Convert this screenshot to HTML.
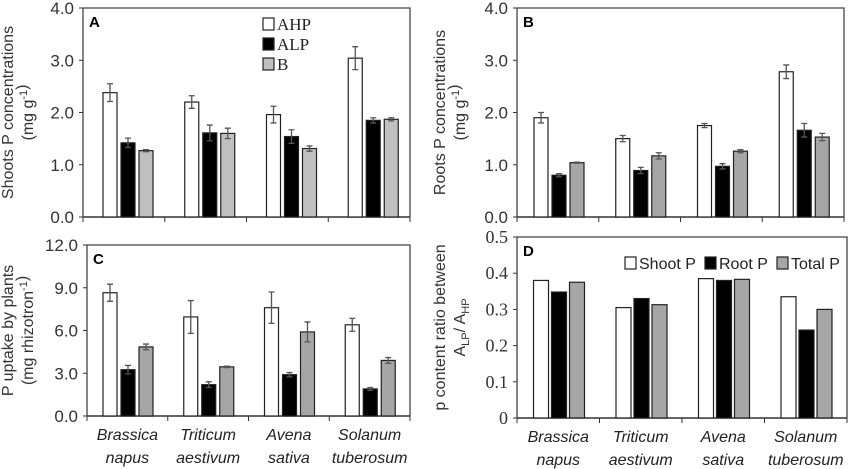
<!DOCTYPE html>
<html><head><meta charset="utf-8"><style>
body{margin:0;background:#fff;}
svg{display:block;font-family:"Liberation Sans",sans-serif;}
</style></head><body>
<svg id="chart" width="851" height="469" viewBox="0 0 851 469" xmlns="http://www.w3.org/2000/svg"></svg>
<script>
const categories = [["Brassica","napus"],["Triticum","aestivum"],["Avena","sativa"],["Solanum","tuberosum"]];
const aAHP=[2.38,2.20,1.96,3.04], aAHPerr=[0.17,0.12,0.16,0.22];
const aALP=[1.42,1.61,1.54,1.85], aALPerr=[0.09,0.15,0.13,0.05];
const aB=[1.27,1.60,1.31,1.87], aBerr=[0.02,0.10,0.05,0.03];
const bAHP=[1.90,1.50,1.75,2.78], bAHPerr=[0.10,0.06,0.04,0.13];
const bALP=[0.80,0.89,0.97,1.66], bALPerr=[0.03,0.06,0.05,0.13];
const bB=[1.04,1.17,1.26,1.53], bBerr=[0.01,0.06,0.03,0.07];
const cAHP=[8.65,6.95,7.60,6.40], cAHPerr=[0.60,1.15,1.10,0.45];
const cALP=[3.25,2.20,2.90,1.90], cALPerr=[0.30,0.20,0.15,0.10];
const cB=[4.85,3.45,5.90,3.90], cBerr=[0.20,0.05,0.70,0.20];
const dShoot=[0.380,0.305,0.385,0.335];
const dRoot=[0.348,0.330,0.380,0.243];
const dTotal=[0.375,0.313,0.383,0.300];
const ticksAB=["0.0","1.0","2.0","3.0","4.0"];
const ticksC=["0.0","3.0","6.0","9.0","12.0"];
const ticksD=["0","0.1","0.2","0.3","0.4","0.5"];

const svg=document.getElementById('chart');
const NS="http://www.w3.org/2000/svg";
function mk(tag,attrs,parent,text){const e=document.createElementNS(NS,tag);for(const k in attrs)e.setAttribute(k,attrs[k]);if(text!==undefined)e.textContent=text;(parent||svg).appendChild(e);return e;}

function panel(o){
  const g=mk('g',{});
  
  
  const x0=o.x0,x1=o.x1,y0=o.y0,y1=o.y1,ymax=o.ymax;
  const yS=v=>y1-(v/ymax)*(y1-y0);
  const pitch=(x1-x0)/4;
  const cx=i=>x0+o.off+i*pitch;
  const fr=mk('path',{d:`M${x0},${y1} L${x0},${y0} L${x1},${y0} L${x1},${y1}`,fill:'none',stroke:'#444','stroke-width':1.3},g);
  
  
  const xa=mk('line',{x1:x0,x2:x1,y1:y1,y2:y1,stroke:'#333','stroke-width':1.5},g);
  
  
  o.ticks.forEach((t,i)=>{
    const v=o.tickVals[i],y=yS(v);
    mk('line',{x1:x0-4,x2:x0,y1:y,y2:y,stroke:'#333','stroke-width':1},g);
    const tt=mk('text',{x:x0-9,y:y+6,'text-anchor':'end','font-size':o.serifTicks?18:17,fill:'#333','font-family':o.serifTicks?'"Liberation Serif",serif':'"Liberation Sans",sans-serif'},g,t);
    
    
  });
  for(let i=0;i<=4;i++){mk('line',{x1:x0+i*pitch,x2:x0+i*pitch,y1:y1,y2:y1+5,stroke:'#333','stroke-width':1},g);}
  if(o.xlabels){
    categories.forEach((c,i)=>{
      const m=x0+(i+0.5)*pitch;
      const t=mk('text',{x:m,y:y1+24,'text-anchor':'middle','font-size':16,'font-style':'italic',fill:'#222'},g);
      
      
      mk('tspan',{x:m,dy:0},t,c[0]);mk('tspan',{x:m,dy:23},t,c[1]);
    });
  }
  o.series.forEach((s,si)=>{
    s.vals.forEach((v,i)=>{
      const bx=cx(i)+(si-1)*o.step-o.bw/2;
      const r=mk('rect',{x:bx,y:yS(v),width:o.bw,height:y1-yS(v),fill:s.fill,stroke:'#222','stroke-width':1.2},g);
      
      
      if(s.err){
        const e=s.err[i],ex=bx+o.bw/2;
        const p=mk('path',{d:`M${ex},${yS(v+e)} L${ex},${yS(v-e)} M${ex-3},${yS(v+e)} L${ex+3},${yS(v+e)} M${ex-3},${yS(v-e)} L${ex+3},${yS(v-e)}`,stroke:'#555','stroke-width':1.3,fill:'none'},g);
        
        
      }
    });
  });
  const lb=mk('text',{x:x0+6,y:y0+19,'font-size':15,'font-weight':'bold',fill:'#000'},g,o.letter);
  
  
  const yt=mk('text',{transform:`translate(${o.ytx},${(y0+y1)/2}) rotate(-90)`,'text-anchor':'middle','font-size':16,fill:'#333'},g);
  
  
  o.ytitle(yt);
  return g;
}
function twoLine(t,a,b){mk('tspan',{x:0,dy:0},t,a);const s=mk('tspan',{x:0,dy:20},t);b(s);}
function sup(parent,txt){mk('tspan',{dy:-6,'font-size':11},parent,txt);mk('tspan',{dy:6},parent,'');}

const W='#fff',K='#000',G='#a6a6a6',GL='#c0c0c0';
panel({name:'panel-a',letter:'A',x0:83,x1:410,y0:8,y1:217,ymax:4,off:45,step:18,bw:14,ticks:ticksAB,tickVals:[0,1,2,3,4],ytx:13,
  series:[{key:'ahp',vals:aAHP,err:aAHPerr,fill:W},{key:'alp',vals:aALP,err:aALPerr,fill:K},{key:'b',vals:aB,err:aBerr,fill:GL}],
  ytitle:t=>twoLine(t,'Shoots P concentrations',s=>{mk('tspan',{},s,'(mg g');sup(s,'-1');mk('tspan',{},s,')');})});
panel({name:'panel-b',letter:'B',x0:517,x1:844,y0:8,y1:217,ymax:4,off:42,step:18,bw:14,ticks:ticksAB,tickVals:[0,1,2,3,4],ytx:445,
  series:[{key:'ahp',vals:bAHP,err:bAHPerr,fill:W},{key:'alp',vals:bALP,err:bALPerr,fill:K},{key:'b',vals:bB,err:bBerr,fill:G}],
  ytitle:t=>twoLine(t,'Roots P concentrations',s=>{mk('tspan',{},s,'(mg g');sup(s,'-1');mk('tspan',{},s,')');})});
panel({name:'panel-c',letter:'C',x0:87,x1:410,y0:245,y1:416,ymax:12,off:41,step:18,bw:14,ticks:ticksC,tickVals:[0,3,6,9,12],ytx:13,xlabels:true,
  series:[{key:'ahp',vals:cAHP,err:cAHPerr,fill:W},{key:'alp',vals:cALP,err:cALPerr,fill:K},{key:'b',vals:cB,err:cBerr,fill:G}],
  ytitle:t=>twoLine(t,'P uptake by plants',s=>{mk('tspan',{},s,'(mg rhizotron');sup(s,'-1');mk('tspan',{},s,')');})});
panel({name:'panel-d',letter:'D',x0:517,x1:847,y0:237,y1:418,ymax:0.5,off:42,step:18,bw:15,ticks:ticksD,tickVals:[0,0.1,0.2,0.3,0.4,0.5],ytx:445,xlabels:true,serifTicks:true,
  series:[{key:'shoot',vals:dShoot,fill:W},{key:'root',vals:dRoot,fill:K},{key:'total',vals:dTotal,fill:G}],
  ytitle:t=>twoLine(t,'p content ratio between',s=>{mk('tspan',{},s,'A');mk('tspan',{dy:4,'font-size':11},s,'LP');mk('tspan',{dy:-4},s,'/ A');mk('tspan',{dy:4,'font-size':11},s,'HP');})});

const legA=mk('g',{});


[['AHP',W],['ALP',K],['B',GL]].forEach((l,i)=>{
  const y=18+i*20;
  const it=mk('g',{},legA);
  
  
  mk('rect',{x:263,y:y,width:11,height:12,fill:l[1],stroke:'#222','stroke-width':1.2},it);
  mk('text',{x:277,y:y+12,'font-size':17,'font-family':'"Liberation Serif",serif',fill:'#222'},it,l[0]);
});
const legD=mk('g',{});


[['Shoot P',W,625],['Root P',K,705],['Total P',G,777]].forEach(l=>{
  const it=mk('g',{},legD);
  
  
  mk('rect',{x:l[2],y:257,width:11,height:12,fill:l[1],stroke:'#222','stroke-width':1.2},it);
  mk('text',{x:l[2]+14,y:269,'font-size':16,fill:'#222'},it,l[0]);
});
</script>
</body></html>
